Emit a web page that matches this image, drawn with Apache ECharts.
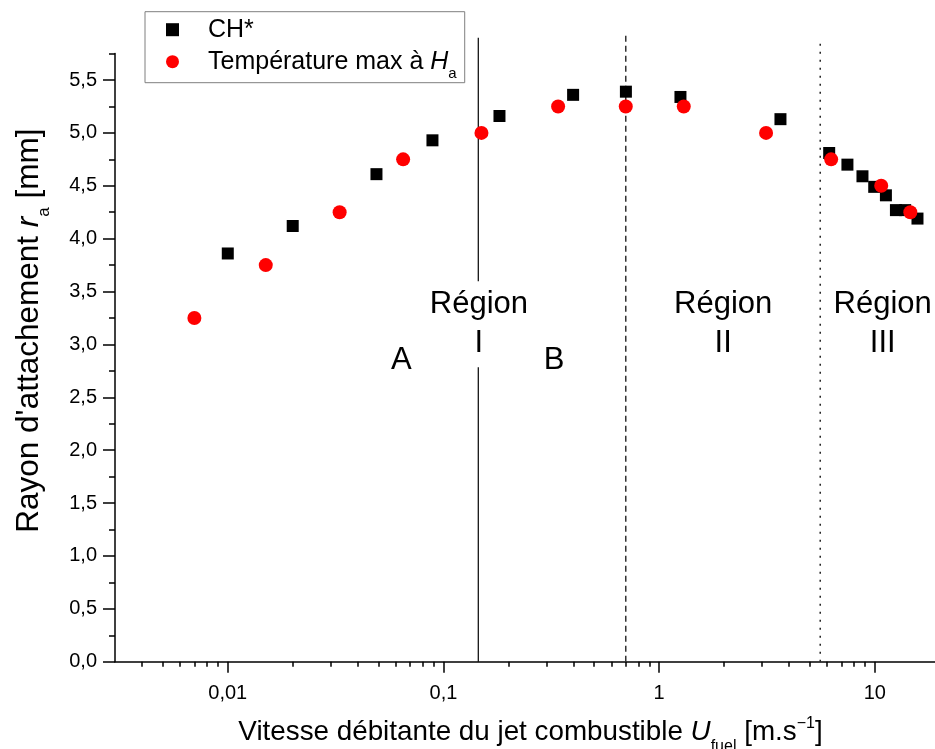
<!DOCTYPE html>
<html><head><meta charset="utf-8">
<script src="https://cdn.jsdelivr.net/npm/echarts@6/dist/echarts.min.js"></script>
<style>html,body{margin:0;padding:0;background:#fff}#c{width:935px;height:749px}</style>
</head><body><div id="c"></div>
<script>
// ---- data ----
const chX = [0.01, 0.02, 0.0489, 0.0889, 0.1818, 0.399, 0.701, 1.255, 3.65, 6.14, 7.46, 8.76, 9.93, 11.25, 12.52, 13.82, 15.76];
const chY = [3.86, 4.12, 4.61, 4.93, 5.16, 5.36, 5.39, 5.34, 5.13, 4.81, 4.70, 4.59, 4.49, 4.41, 4.27, 4.27, 4.19];
const tempX = [0.007, 0.015, 0.033, 0.065, 0.15, 0.34, 0.70, 1.30, 3.13, 6.27, 10.7, 14.6];
const tempY = [3.25, 3.75, 4.25, 4.75, 5.0, 5.25, 5.25, 5.25, 5.0, 4.75, 4.5, 4.25];
const xMajorTicks = [0.01, 0.1, 1, 10];
const xMinorTicks = [0.004, 0.005, 0.006, 0.007, 0.008, 0.009,
  0.02, 0.03, 0.04, 0.05, 0.06, 0.07, 0.08, 0.09,
  0.2, 0.3, 0.4, 0.5, 0.6, 0.7, 0.8, 0.9,
  2, 3, 4, 5, 6, 7, 8, 9];
const yMajorTicks = [0, 0.5, 1, 1.5, 2, 2.5, 3, 3.5, 4, 4.5, 5, 5.5];
const yMinorTicks = [0.25, 0.75, 1.25, 1.75, 2.25, 2.75, 3.25, 3.75, 4.25, 4.75, 5.25, 5.75];
const regionLineX = [0.145, 0.7, 5.58];
const regionLineTop = [5.9, 5.92, 5.88];
const annotText = ['Région\nI', 'A', 'B', 'Région\nII', 'Région\nIII'];
const annotX = [0.146, 0.0637, 0.326, 1.98, 10.87];
const annotY = [3.19, 2.85, 2.85, 3.19, 3.19];

const X_MIN = 0.003, X_MAX = 19, Y_MIN = 0, Y_MAX = 5.75;
const FONT = "'Liberation Sans', Arial, sans-serif";
const BLACK = '#000';

const chart = echarts.init(document.getElementById('c'), null, {renderer: 'canvas'});

const fmtNum = v => String(+Math.pow(10, v).toPrecision(3)).replace('.', ',');

const baseLog = {
  type: 'log', logBase: 10, min: X_MIN, max: X_MAX, position: 'bottom',
  axisLine: {show: true, onZero: false, lineStyle: {color: BLACK, width: 1.5}},
  axisTick: {show: false}, axisLabel: {show: false}, splitLine: {show: false}, minorTick: {show: false}
};
const valX = (ticks, len, labels) => ({
  type: 'value', min: Math.log10(X_MIN), max: Math.log10(X_MAX), position: 'bottom',
  axisLine: {show: false, onZero: false},
  axisTick: {show: true, inside: false, length: len, customValues: ticks.map(Math.log10), lineStyle: {color: BLACK, width: 1.5}},
  axisLabel: labels ? {show: true, customValues: ticks.map(Math.log10), formatter: fmtNum, fontFamily: FONT, fontSize: 20, color: BLACK, margin: 22} : {show: false},
  splitLine: {show: false}
});

const lineStyles = [
  {color: BLACK, width: 1.2, type: 'solid'},
  {color: '#333', width: 1.5, type: [6, 4]},
  {color: '#222', width: 1.5, type: [2, 6]}
];

const series = [];
regionLineX.forEach((x, i) => {
  series.push({
    type: 'line', name: 'sep' + i, xAxisIndex: 0, yAxisIndex: 0,
    data: [[x, Y_MIN], [x, regionLineTop[i]]],
    symbol: 'none', clip: false, silent: true, z: 1,
    lineStyle: lineStyles[i]
  });
});
series.push({
  type: 'scatter', name: 'CH*', xAxisIndex: 0, yAxisIndex: 0,
  data: chX.map((x, i) => [x, chY[i]]),
  symbol: 'rect', symbolSize: 12, itemStyle: {color: BLACK, opacity: 1}, z: 3
});
series.push({
  type: 'scatter', name: 'Température max à Ha', xAxisIndex: 0, yAxisIndex: 0,
  data: tempX.map((x, i) => [x, tempY[i]]),
  symbol: 'circle', symbolSize: 14, itemStyle: {color: '#ff0000', opacity: 1}, z: 4
});
series.push({
  type: 'scatter', name: 'annot', xAxisIndex: 0, yAxisIndex: 0, silent: true, z: 5,
  symbolSize: 1, itemStyle: {color: 'rgba(0,0,0,0)', opacity: 1},
  data: annotX.map((x, i) => ({value: [x, annotY[i]], label: {formatter: annotText[i]}})),
  label: {show: true, position: 'inside', fontFamily: FONT, fontSize: 31, lineHeight: 39,
    color: BLACK, opacity: 1, backgroundColor: '#fff', padding: [4, 2]}
});

chart.setOption({
  animation: false,
  backgroundColor: '#fff',
  grid: {left: 115, right: 0, top: 53.6, bottom: 87.3, containLabel: false, outerBoundsMode: 'none'},
  legend: {
    data: ['CH*', 'Température max à Ha'],
    orient: 'vertical', left: 145, top: 11.7,
    padding: [5, 8, 1, 21], itemGap: 6, itemWidth: 13, itemHeight: 13,
    borderColor: '#7f7f7f', borderWidth: 1, selectedMode: false,
    formatter: name => name === 'CH*' ? 'CH*' : 'Température max à {i|H}{sub|a}',
    textStyle: {
      fontFamily: FONT, fontSize: 25, color: BLACK, lineHeight: 26, padding: [0, 0, 0, 24],
      rich: {
        i: {fontFamily: FONT, fontSize: 25, fontStyle: 'italic', color: BLACK, lineHeight: 26},
        sub: {fontFamily: FONT, fontSize: 15, color: BLACK, lineHeight: 10, verticalAlign: 'top', padding: [18, 0, 0, 0]}
      }
    }
  },
  xAxis: [
    Object.assign({}, baseLog, {
      name: 'Vitesse débitante du jet combustible {i|U}{sub|fuel} [m.s{sup|−1}]',
      nameLocation: 'middle', nameGap: 54,
      nameTextStyle: {
        fontFamily: FONT, fontSize: 27.8, color: BLACK, lineHeight: 34, padding: [0, 0, 0, 11],
        rich: {
          i: {fontFamily: FONT, fontSize: 27.8, fontStyle: 'italic', color: BLACK, lineHeight: 34},
          sub: {fontFamily: FONT, fontSize: 16, color: BLACK, lineHeight: 10, verticalAlign: 'top', padding: [23, 0, 0, 0]},
          sup: {fontFamily: FONT, fontSize: 16, color: BLACK, lineHeight: 10, verticalAlign: 'top', padding: [0, 0, 0, 0]}
        }
      }
    }),
    valX(xMajorTicks, 11, true),
    valX(xMinorTicks, 5, false)
  ],
  yAxis: [
    {
      type: 'value', min: Y_MIN, max: Y_MAX, position: 'left',
      name: "Rayon d'attachement {i|r}{sub|a} [mm]",
      nameLocation: 'middle', nameGap: 68, nameRotate: 90,
      nameTextStyle: {
        fontFamily: FONT, fontSize: 31.5, color: BLACK, lineHeight: 36, padding: [0, 0, 0, 54],
        rich: {
          i: {fontFamily: FONT, fontSize: 31.5, fontStyle: 'italic', color: BLACK, lineHeight: 36},
          sub: {fontFamily: FONT, fontSize: 17, color: BLACK, lineHeight: 10, verticalAlign: 'top', padding: [25, 0, 0, 0]}
        }
      },
      axisLine: {show: true, onZero: false, lineStyle: {color: BLACK, width: 1.5}},
      axisTick: {show: true, inside: false, length: 12, customValues: yMajorTicks, lineStyle: {color: BLACK, width: 1.5}},
      axisLabel: {show: true, customValues: yMajorTicks, formatter: v => v.toFixed(1).replace('.', ','),
        fontFamily: FONT, fontSize: 20, color: BLACK, margin: 18},
      splitLine: {show: false}
    },
    {
      type: 'value', min: Y_MIN, max: Y_MAX, position: 'left',
      axisLine: {show: false, onZero: false},
      axisTick: {show: true, inside: false, length: 6, customValues: yMinorTicks, lineStyle: {color: BLACK, width: 1.5}},
      axisLabel: {show: false}, splitLine: {show: false}
    }
  ],
  series: series
});
</script></body></html>
